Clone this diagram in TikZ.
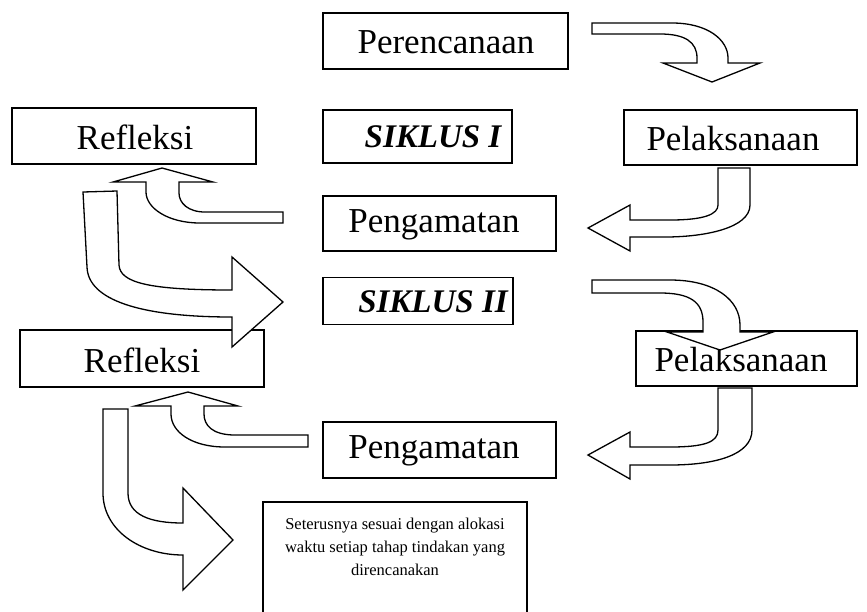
\documentclass[tikz,border=0pt]{standalone}
\usepackage{fontspec}
\setmainfont{Liberation Serif}
\begin{document}
\begin{tikzpicture}[x=1pt,y=-1pt,
  box/.style={draw, line width=1.5pt, fill=white, minimum height=55pt,
    inner sep=0pt, font=\fontsize{35}{38}\selectfont},
  label/.style={inner sep=0pt, font=\fontsize{35}{38}\selectfont},
  bold/.style={inner sep=0pt, font=\fontsize{33}{36}\selectfont\bfseries\itshape},
  blockarrow/.style={draw, line width=1.3pt, fill=white, line join=miter}]
\useasboundingbox (0,0) rectangle (867,611);
% boxes
\node[box, minimum width=245pt, minimum height=56pt] (per)  at (445.5,41) {};
\node[label] (perT) at (446,42) {Perencanaan};
\node[box, minimum width=244pt, minimum height=56pt] (ref1) at (134,136) {};
\node[label] (ref1T) at (135,137) {Refleksi};
\node[box, minimum width=189pt, minimum height=53pt] (sik1) at (417.5,136.5) {};
\node[bold] (sik1T) at (433,137) {SIKLUS I};
\node[box, minimum width=233pt] (pel1) at (740.5,137.5) {};
\node[label] (pel1T) at (733,139) {Pelaksanaan};
\node[box, minimum width=233pt] (pen1) at (439.5,223.5) {};
\node[label] (pen1T) at (434,225) {Pengamatan};
\node[box, minimum width=190pt, minimum height=47pt] (sik2) at (418,301) {};
\node[bold] (sik2T) at (433,302) {SIKLUS II};
\node[box, minimum width=244pt, minimum height=57pt] (ref2) at (142,358.5) {};
\node[label] (ref2T) at (142,360) {Refleksi};
\node[box, minimum width=221pt] (pel2) at (746.5,358.5) {};
\node[label] (pel2T) at (741,360) {Pelaksanaan};
\node[box, minimum width=233pt, minimum height=56pt] (pen2) at (439.5,450) {};
\node[label] (pen2T) at (434,451) {Pengamatan};
% last (open) box
\draw[line width=1.5pt] (263,615) -- (263,502) -- (527,502) -- (527,615);
\node[align=center, inner sep=0pt, font=\fontsize{16.5}{23}\selectfont] (next) at (395,547)
  {Seterusnya sesuai dengan alokasi\\waktu setiap tahap tindakan yang\\direncanakan};
% A1: Perencanaan -> Pelaksanaan
\draw[blockarrow] (592,23) -- (672,23) .. controls (708,23) and (728,40) .. (728,58) -- (728,63)
  -- (760,63) -- (712,82) -- (663,63) -- (697,63) -- (697,58)
  .. controls (697,42) and (685,34) .. (660,34) -- (592,34) -- cycle;
% A2: Pelaksanaan -> Pengamatan
\draw[blockarrow] (718,168) -- (750,168) -- (750,205)
  .. controls (750,228) and (705,237) .. (665,237) -- (630,237) -- (630,251) -- (588,228)
  -- (630,205) -- (630,220) -- (670,220) .. controls (705,220) and (718,214) .. (718,205) -- cycle;
% A3: Pengamatan -> Refleksi
\draw[blockarrow] (283,212) -- (205,212) .. controls (188,212) and (179,203) .. (179,193)
  -- (179,182) -- (213,182) -- (162,168) -- (113,182) -- (146,182) -- (146,192)
  .. controls (146,208) and (168,223) .. (200,223) -- (283,223) -- cycle;
% A4: Refleksi -> Siklus II
\draw[blockarrow] (83,192) -- (117,191) -- (119,265) .. controls (120,283) and (150,290) .. (232,290)
  -- (232,257) -- (283,302) -- (232,347) -- (232,317)
  .. controls (140,317) and (88,300) .. (87,267) -- cycle;
% A5: Siklus II -> Pelaksanaan
\draw[blockarrow] (592,280) -- (670,280) .. controls (715,280) and (740,300) .. (740,325) -- (740,332)
  -- (773,332) -- (720,350) -- (667,332) -- (703,332) -- (703,322)
  .. controls (703,302) and (690,293) .. (660,293) -- (592,293) -- cycle;
% A6: Pelaksanaan -> Pengamatan
\draw[blockarrow] (718,388) -- (752,388) -- (752,430)
  .. controls (752,455) and (715,465) .. (670,465) -- (630,465) -- (630,479) -- (588,455)
  -- (630,432) -- (630,447) -- (670,447) .. controls (705,447) and (718,442) .. (718,430) -- cycle;
% A7: Pengamatan -> Refleksi
\draw[blockarrow] (308,435) -- (235,435) .. controls (212,435) and (204,425) .. (204,414)
  -- (204,406) -- (238,406) -- (188,392) -- (135,406) -- (171,406) -- (171,414)
  .. controls (171,432) and (192,447) .. (225,447) -- (308,447) -- cycle;
% A8: Refleksi -> next
\draw[blockarrow] (103,409) -- (128,409) -- (128,493) .. controls (128,515) and (150,523) .. (183,523)
  -- (183,488) -- (233,540) -- (183,590) -- (183,555)
  .. controls (140,555) and (103,530) .. (103,493) -- cycle;
\end{tikzpicture}
\end{document}
